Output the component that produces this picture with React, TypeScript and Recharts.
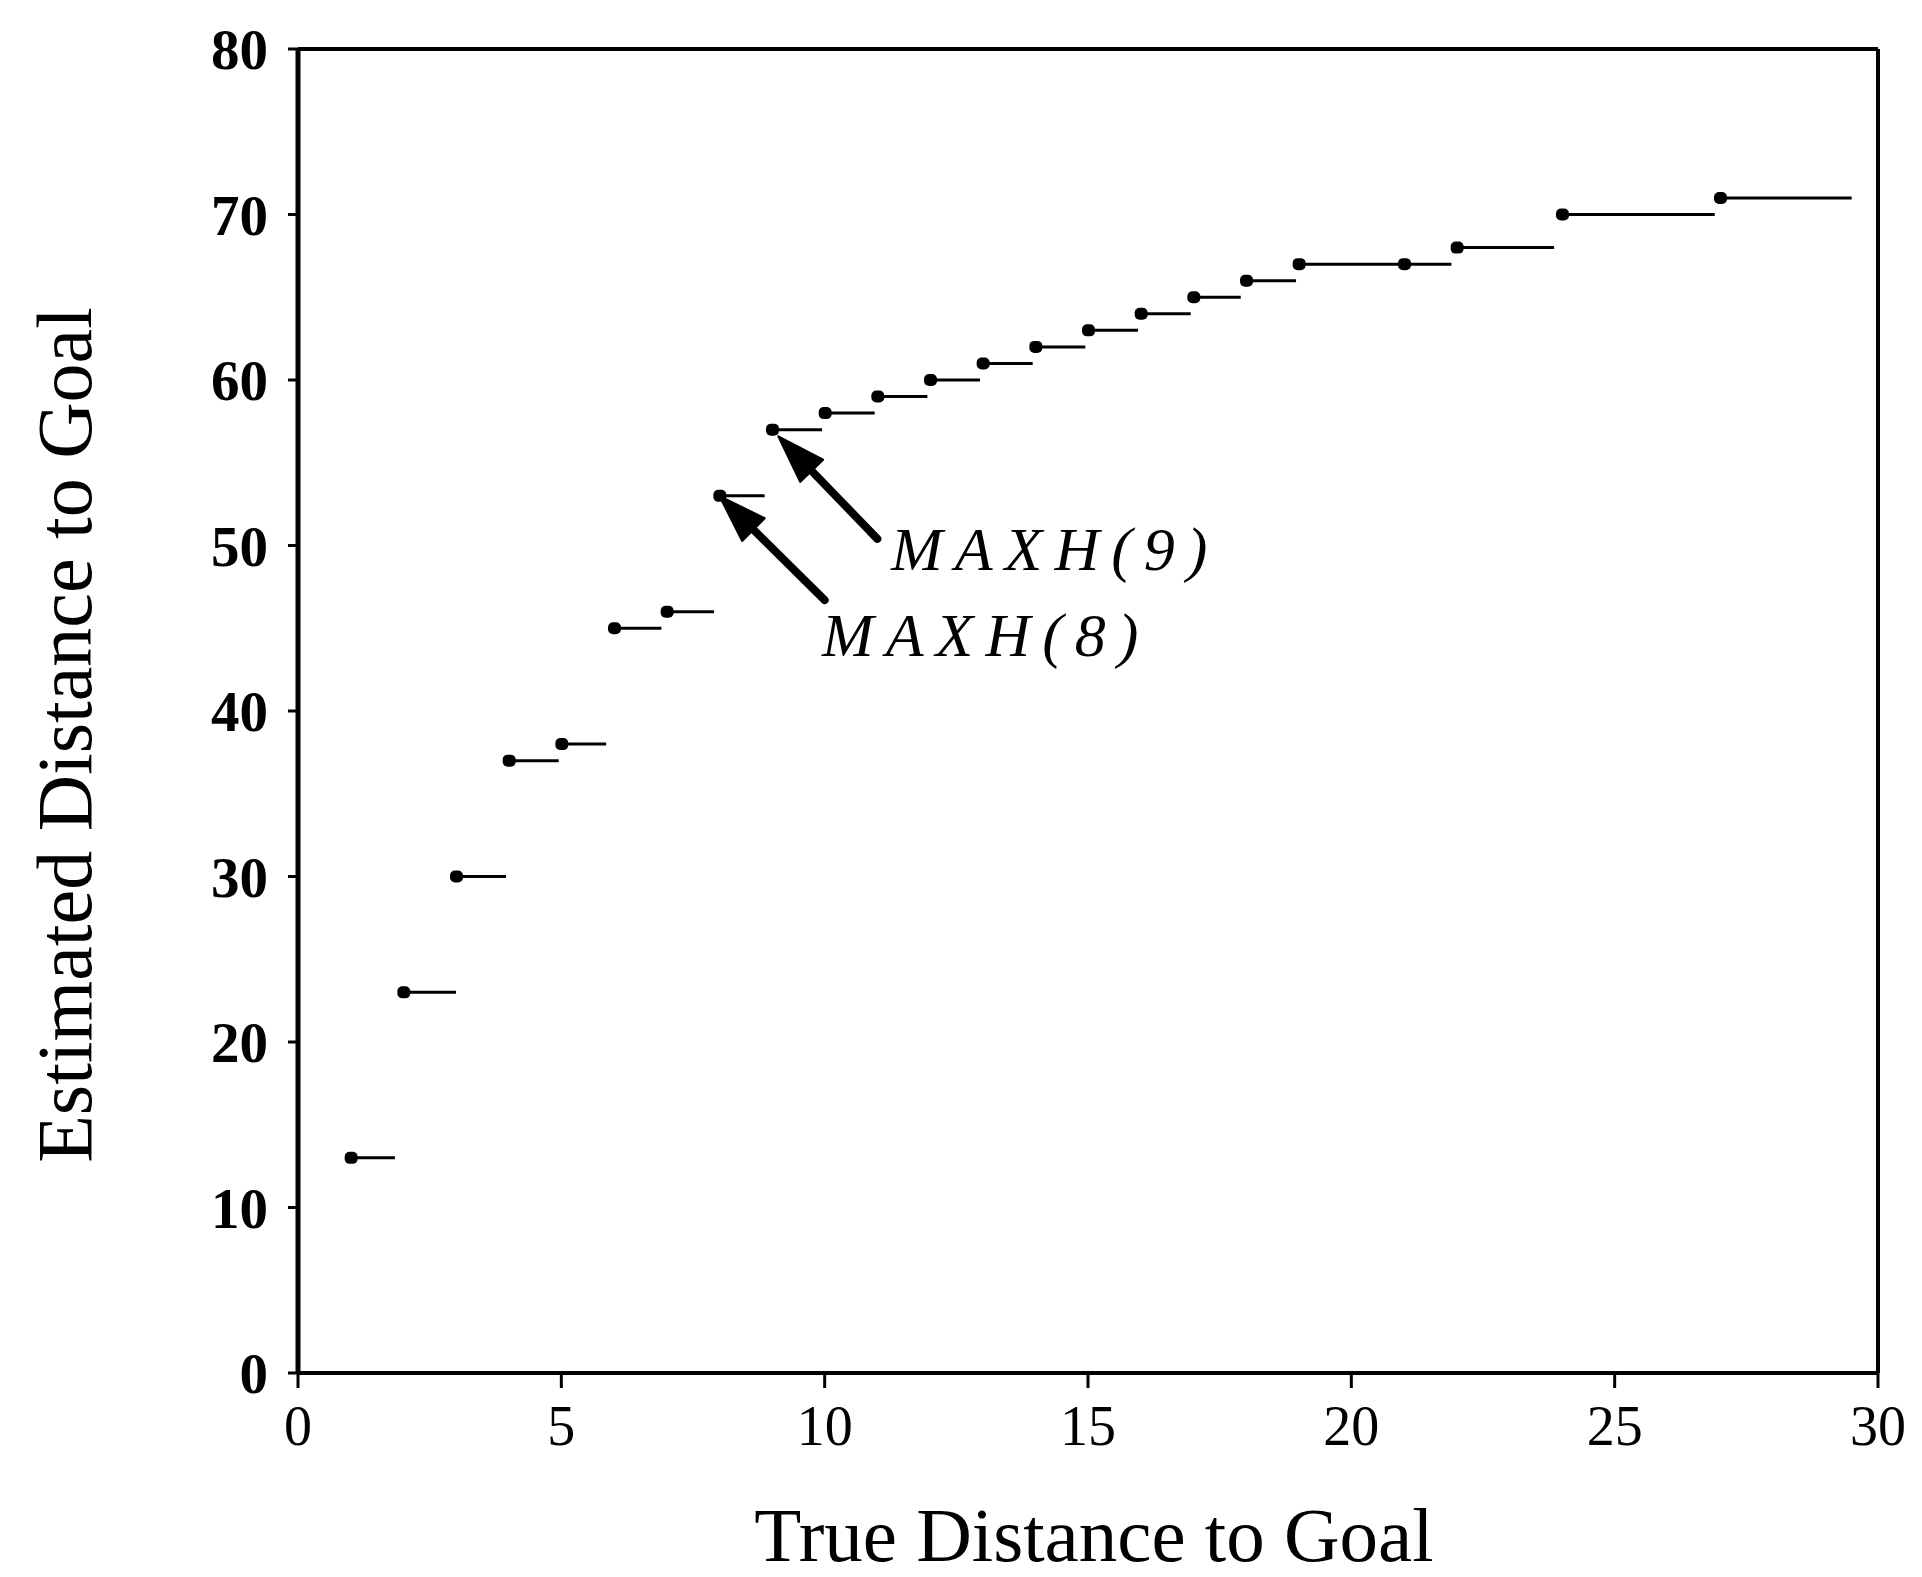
import { ComposedChart, Label, Line, ReferenceDot, ReferenceLine, XAxis, YAxis } from 'recharts'

// Step points: true distance -> estimated distance (MAXH)
const trueDistance = [1, 2, 3, 4, 5, 6, 7, 8, 9, 10, 11, 12, 13, 14, 15, 16, 17, 18, 19, 21, 22, 24, 27]
const estimatedDistance = [13, 23, 30, 37, 38, 45, 46, 53, 57, 58, 59, 60, 61, 62, 63, 64, 65, 66, 67, 67, 68, 70, 71]
// where each horizontal step ends
const stepEnd = [
  1.84, 3.0, 3.95, 4.95, 5.85, 6.9, 7.9, 8.86, 9.95, 10.95, 11.95, 12.95, 13.95, 14.95, 15.95, 16.95, 17.9,
  18.95, 20.9, 21.9, 23.85, 26.9, 29.5,
]

const xTicks = [0, 5, 10, 15, 20, 25, 30]
const yTicks = [0, 10, 20, 30, 40, 50, 60, 70, 80]

const annotationLabels = ['MAXH(8)', 'MAXH(9)']
const arrowTail = [
  [10.0, 46.7],
  [11.0, 50.4],
]
const arrowTip = [
  [8.0, 53.0],
  [9.12, 56.6],
]
const labelAnchor = [
  [9.95, 43.3],
  [11.26, 48.5],
]

const FONT = '"Liberation Serif", "DejaVu Serif", serif'

const segments = trueDistance.map((x, i) => [
  { x, y: estimatedDistance[i] },
  { x: stepEnd[i], y: estimatedDistance[i] },
])

function StepDot(props: any) {
  const { cx, cy, index } = props
  if (index !== 0 || cx == null) return <g key={`d-${index}`} />
  return <rect key={`d-${index}`} x={cx - 6} y={cy - 6} width={13} height={12} rx={5} fill="#000" />
}

function Arrow(props: any) {
  const { x1, y1, x2, y2 } = props
  const dx = x2 - x1
  const dy = y2 - y1
  const len = Math.sqrt(dx * dx + dy * dy)
  const ux = dx / len
  const uy = dy / len
  const headLen = 48
  const headW = 16
  const bx = x2 - ux * headLen
  const by = y2 - uy * headLen
  const pts = `${x2},${y2} ${bx - uy * headW},${by + ux * headW} ${bx + uy * headW},${by - ux * headW}`
  return (
    <g>
      <line x1={x1} y1={y1} x2={bx + ux * 4} y2={by + uy * 4} stroke="#000" strokeWidth={8} strokeLinecap="round" />
      <polygon points={pts} fill="#000" stroke="#000" strokeWidth={2} strokeLinejoin="round" />
    </g>
  )
}

export default function App() {
  return (
    <div style={{ position: 'absolute', left: 0, top: 0, background: '#fff' }}>
      <ComposedChart width={1922} height={1577} margin={{ top: 49, right: 44, bottom: 124, left: 98 }}>
        <XAxis
          dataKey="x"
          type="number"
          domain={[0, 30]}
          ticks={xTicks}
          allowDataOverflow
          height={80}
          stroke="#000"
          axisLine={{ stroke: '#000', strokeWidth: 4 }}
          tickLine={{ stroke: '#000', strokeWidth: 3 }}
          tickSize={15}
          tickMargin={17}
          tick={{ fontSize: 56, fill: '#000', fontFamily: FONT }}
        >
          <Label
            content={({ viewBox }: any) => (
              <text
                x={viewBox.x + viewBox.width / 2 + 6}
                y={viewBox.y + 188}
                textAnchor="middle"
                fontSize={77}
                fontFamily={FONT}
                fill="#000"
              >
                True Distance to Goal
              </text>
            )}
          />
        </XAxis>
        <YAxis
          type="number"
          domain={[0, 80]}
          ticks={yTicks}
          allowDataOverflow
          width={200}
          axisLine={{ stroke: '#000', strokeWidth: 5 }}
          tickLine={{ stroke: '#000', strokeWidth: 3 }}
          tickSize={10}
          tickMargin={20}
          tick={{ fontSize: 57, fill: '#000', fontFamily: FONT, fontWeight: 'bold' }}
        >
          <Label
            content={({ viewBox }: any) => {
              const x = viewBox.x - 34
              const y = viewBox.y + viewBox.height / 2 + 24
              return (
                <text
                  x={x}
                  y={y}
                  transform={`rotate(-90, ${x}, ${y})`}
                  textAnchor="middle"
                  dominantBaseline="central"
                  fontSize={78}
                  fontFamily={FONT}
                  fill="#000"
                >
                  Estimated Distance to Goal
                </text>
              )
            }}
          />
        </YAxis>
        {/* frame: top and right borders */}
        <ReferenceLine y={80} stroke="#000" strokeWidth={4} ifOverflow="visible" />
        <ReferenceLine x={30} stroke="#000" strokeWidth={4} ifOverflow="visible" />
        {segments.map((seg, i) => (
          <Line
            key={`step-${i}`}
            data={seg}
            dataKey="y"
            type="linear"
            stroke="#000"
            strokeWidth={3}
            dot={StepDot}
            activeDot={false}
            isAnimationActive={false}
          />
        ))}
        {annotationLabels.map((lab, i) => (
          <ReferenceLine
            key={`arrow-${i}`}
            segment={[
              { x: arrowTail[i][0], y: arrowTail[i][1] },
              { x: arrowTip[i][0], y: arrowTip[i][1] },
            ]}
            shape={Arrow}
          />
        ))}
        {annotationLabels.map((lab, i) => (
          <ReferenceDot
            key={`lab-${i}`}
            x={labelAnchor[i][0]}
            y={labelAnchor[i][1]}
            r={0}
            shape={(p: any) => (
              <text x={p.cx} y={p.cy} fontSize={62} fontStyle="italic" letterSpacing={12} fontFamily={FONT} fill="#000">
                {lab}
              </text>
            )}
          />
        ))}
      </ComposedChart>
    </div>
  )
}
